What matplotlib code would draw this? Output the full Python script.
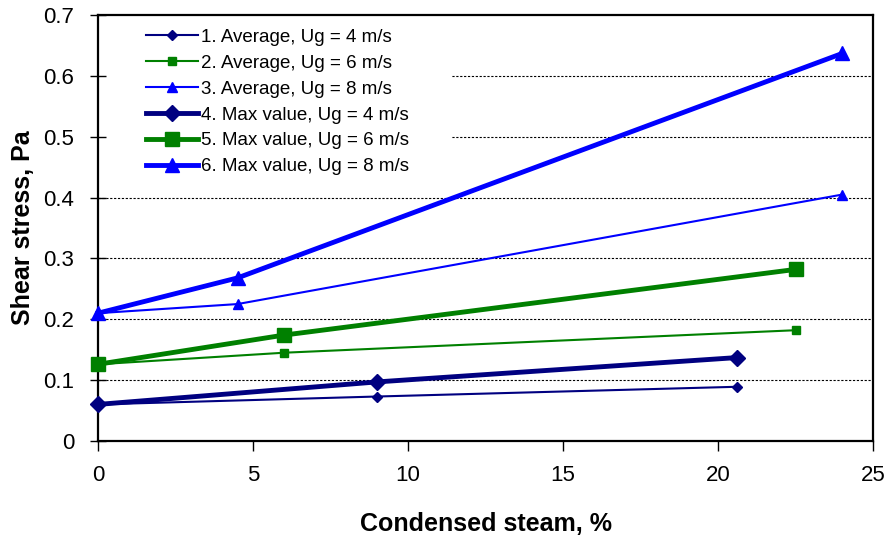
import matplotlib
matplotlib.use("Agg")
import matplotlib.pyplot as plt
from matplotlib.patches import Rectangle

plt.rcParams['font.family'] = ['Liberation Sans', 'DejaVu Sans']

x_ug4 = [0, 9, 20.6]
x_ug6 = [0, 6, 22.5]
x_ug8 = [0, 4.5, 24]
avg_ug4 = [0.060, 0.073, 0.089]
avg_ug6 = [0.126, 0.145, 0.182]
avg_ug8 = [0.210, 0.225, 0.405]
max_ug4 = [0.060, 0.097, 0.137]
max_ug6 = [0.126, 0.174, 0.282]
max_ug8 = [0.210, 0.268, 0.637]
labels = ["1. Average, Ug = 4 m/s", "2. Average, Ug = 6 m/s", "3. Average, Ug = 8 m/s",
          "4. Max value, Ug = 4 m/s", "5. Max value, Ug = 6 m/s", "6. Max value, Ug = 8 m/s"]
x_ticks = [0, 5, 10, 15, 20, 25]
y_ticks = [0, 0.1, 0.2, 0.3, 0.4, 0.5, 0.6, 0.7]
y_ticklabels = ['0', '0.1', '0.2', '0.3', '0.4', '0.5', '0.6', '0.7']

navy, green, blue = '#000080', '#008000', '#0000FF'

fig = plt.figure(figsize=(8.91, 5.41), dpi=100)
ax = fig.add_axes([0.110, 0.185, 0.870, 0.787])

for yv in y_ticks[1:-1]:
    ax.axhline(yv, color='black', lw=0.8, ls=(0, (2, 1.5)), zorder=0)

# white legend area covering gridlines
ax.add_patch(Rectangle((0.0, 0.62), 0.457, 0.37, transform=ax.transAxes,
                       facecolor='white', edgecolor='none', zorder=1))

ax.plot(x_ug4, avg_ug4, color=navy, lw=1.5, marker='D', ms=5, label=labels[0], clip_on=False, zorder=3)
ax.plot(x_ug6, avg_ug6, color=green, lw=1.5, marker='s', ms=6, label=labels[1], clip_on=False, zorder=3)
ax.plot(x_ug8, avg_ug8, color=blue, lw=1.5, marker='^', ms=7, label=labels[2], clip_on=False, zorder=3)
ax.plot(x_ug4, max_ug4, color=navy, lw=3.5, marker='D', ms=8, label=labels[3], clip_on=False, zorder=3)
ax.plot(x_ug6, max_ug6, color=green, lw=3.5, marker='s', ms=10, label=labels[4], clip_on=False, zorder=3)
ax.plot(x_ug8, max_ug8, color=blue, lw=3.5, marker='^', ms=10, label=labels[5], clip_on=False, zorder=3)

ax.set_xlim(0, 25)
ax.set_ylim(0, 0.7)
ax.set_xticks(x_ticks)
ax.set_yticks(y_ticks)
ax.set_yticklabels(y_ticklabels)
ax.tick_params(axis='both', labelsize=16, color='black', width=1)
ax.tick_params(axis='y', direction='inout', length=12, pad=11)
ax.tick_params(axis='x', direction='out', length=7, pad=10)
for sp in ['top', 'right', 'bottom', 'left']:
    ax.spines[sp].set_color('black')
    ax.spines[sp].set_linewidth(1.6)

ax.set_xlabel('Condensed steam, %', fontsize=18, fontweight='bold', labelpad=19)
ax.set_ylabel('Shear stress, Pa', fontsize=18, fontweight='bold', labelpad=6)

leg = ax.legend(loc='upper left', bbox_to_anchor=(0.04, 1.008), fontsize=13.5, frameon=False,
                handlelength=2.8, handletextpad=0.15, labelspacing=0.47, borderpad=0.4)
leg.set_zorder(5)

fig.savefig('out.png', dpi=100)
